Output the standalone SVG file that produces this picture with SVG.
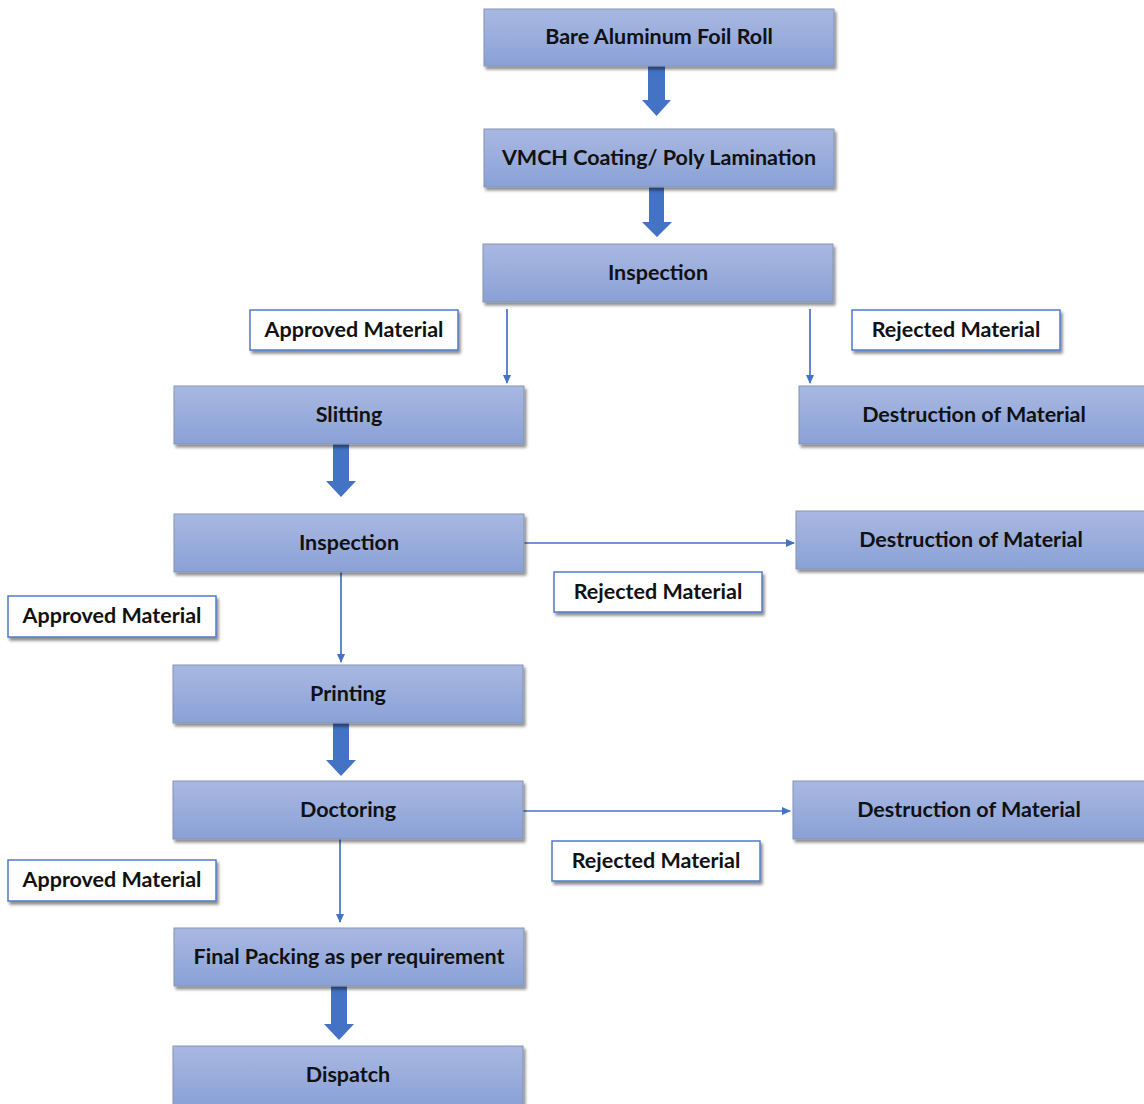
<svg xmlns="http://www.w3.org/2000/svg" width="1144" height="1104" viewBox="0 0 1144 1104">
<defs>
<linearGradient id="g" x1="0" y1="0" x2="0" y2="1">
<stop offset="0" stop-color="#a9b8e2"/>
<stop offset="1" stop-color="#8aa1d6"/>
</linearGradient>
<filter id="sh" x="-5%" y="-10%" width="115%" height="130%">
<feGaussianBlur in="SourceAlpha" stdDeviation="1.5"/>
<feOffset dx="2" dy="3" result="b"/>
<feComponentTransfer><feFuncA type="linear" slope="0.45"/></feComponentTransfer>
<feMerge><feMergeNode/><feMergeNode in="SourceGraphic"/></feMerge>
</filter>
<marker id="ah" markerWidth="10" markerHeight="10" refX="8" refY="5" orient="auto" markerUnits="userSpaceOnUse">
<path d="M0,1 L9,5 L0,9 Z" fill="#4472c4"/>
</marker>
</defs>
<style>
.box{fill:url(#g);stroke:#8593b0;stroke-width:1;filter:url(#sh)}
.lbl{fill:#ffffff;stroke:#4f7bcb;stroke-width:1.5;filter:url(#sh)}
text{font-family:Lato,"Liberation Sans",sans-serif;font-weight:bold;font-size:21.5px;fill:#111111;text-anchor:middle;dominant-baseline:central}
.thin{stroke:#4472c4;stroke-width:1.7;fill:none;marker-end:url(#ah)}
.thick{fill:#4472c4}
</style>
<rect width="1144" height="1104" fill="#ffffff"/>
<g id="connectors">
<path class="thick" d="M648,66 H665 V100 H671 L656.5,116 L642,100 H648 Z"/>
<path class="thick" d="M649,187 H664 V222 H672 L657,237 L642,222 H649 Z"/>
<path class="thick" d="M333,444 H349 V481 H356 L341,497 L326,481 H333 Z"/>
<path class="thick" d="M333,723 H349 V760 H356 L341,776 L326,760 H333 Z"/>
<path class="thick" d="M331,986 H347 V1024 H354 L339,1040 L324,1024 H331 Z"/>
<line class="thin" x1="507" y1="309" x2="507" y2="383"/>
<line class="thin" x1="810" y1="309" x2="810" y2="383"/>
<line class="thin" x1="524" y1="543" x2="794" y2="543"/>
<line class="thin" x1="341" y1="572" x2="341" y2="662"/>
<line class="thin" x1="523" y1="811" x2="790" y2="811"/>
<line class="thin" x1="340" y1="839" x2="340" y2="922"/>
</g>
<g id="n1"><rect class="box" x="484" y="9" width="350" height="57"/><text x="659" y="36">Bare Aluminum Foil Roll</text></g>
<g id="n2"><rect class="box" x="484" y="129" width="350" height="58"/><text x="659" y="157">VMCH Coating/ Poly Lamination</text></g>
<g id="n3"><rect class="box" x="483" y="244" width="350" height="58"/><text x="658" y="272">Inspection</text></g>
<g id="l1"><rect class="lbl" x="250" y="310" width="208" height="40"/><text x="354" y="329">Approved Material</text></g>
<g id="l2"><rect class="lbl" x="852" y="310" width="208" height="40"/><text x="956" y="329">Rejected Material</text></g>
<g id="n4"><rect class="box" x="174" y="386" width="350" height="58"/><text x="349" y="414">Slitting</text></g>
<g id="n5"><rect class="box" x="799" y="386" width="350" height="58"/><text x="974" y="414">Destruction of Material</text></g>
<g id="n6"><rect class="box" x="174" y="514" width="350" height="58"/><text x="349" y="542">Inspection</text></g>
<g id="n7"><rect class="box" x="796" y="511" width="350" height="58"/><text x="971" y="539">Destruction of Material</text></g>
<g id="l3"><rect class="lbl" x="554" y="572" width="208" height="40"/><text x="658" y="591">Rejected Material</text></g>
<g id="l4"><rect class="lbl" x="8" y="596" width="208" height="41"/><text x="112" y="615">Approved Material</text></g>
<g id="n8"><rect class="box" x="173" y="665" width="350" height="58"/><text x="348" y="693">Printing</text></g>
<g id="n9"><rect class="box" x="173" y="781" width="350" height="58"/><text x="348" y="809">Doctoring</text></g>
<g id="n10"><rect class="box" x="793" y="781" width="352" height="58"/><text x="969" y="809">Destruction of Material</text></g>
<g id="l5"><rect class="lbl" x="552" y="841" width="208" height="40"/><text x="656" y="860">Rejected Material</text></g>
<g id="l6"><rect class="lbl" x="8" y="860" width="208" height="41"/><text x="112" y="879">Approved Material</text></g>
<g id="n11"><rect class="box" x="174" y="928" width="350" height="58"/><text x="349" y="956">Final Packing as per requirement</text></g>
<g id="n12"><rect class="box" x="173" y="1046" width="350" height="60"/><text x="348" y="1074">Dispatch</text></g>
</svg>
